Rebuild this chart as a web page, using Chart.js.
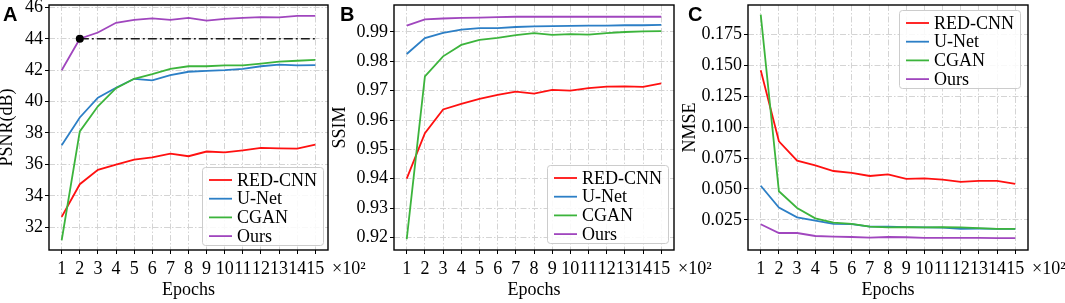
<!DOCTYPE html>
<html><head><meta charset="utf-8">
<script src="https://cdn.jsdelivr.net/npm/chart.js@4.4.0/dist/chart.umd.min.js"></script>
<style>
html,body{margin:0;padding:0;background:#fff;width:1065px;height:303px;overflow:hidden}
canvas{position:absolute;left:0;top:0}
</style></head><body>
<canvas id="cA" width="1065" height="303"></canvas>
<canvas id="cB" width="1065" height="303"></canvas>
<canvas id="cC" width="1065" height="303"></canvas>
<script>
// ---------- data ----------
const epochs = [1,2,3,4,5,6,7,8,9,10,11,12,13,14,15];
const epochTickLabels = ['1','2','3','4','5','6','7','8','9','10','11','12','13','14','15'];
const epochRange = [0.3, 15.7];
const seriesNames = ['RED-CNN','U-Net','CGAN','Ours'];
const seriesColors = ['#ff1010','#2c7fc6','#3cb43c','#a046be'];

const psnrRedCnn = [32.66,34.74,35.65,35.98,36.3,36.45,36.68,36.52,36.82,36.77,36.9,37.05,37.02,37.0,37.26];
const psnrUNet   = [37.22,38.99,40.25,40.88,41.45,41.35,41.68,41.9,41.95,42.0,42.08,42.25,42.35,42.3,42.32];
const psnrCgan   = [31.17,38.1,39.7,40.85,41.45,41.75,42.08,42.25,42.25,42.3,42.3,42.42,42.55,42.6,42.65];
const psnrOurs   = [42.0,44.0,44.4,45.02,45.2,45.3,45.2,45.33,45.15,45.27,45.33,45.38,45.36,45.46,45.46];
const psnrTicks = [32,34,36,38,40,42,44,46];
const psnrTickLabels = ['32','34','36','38','40','42','44','46'];
const psnrRange = [30.55, 46.15];
const psnrRefLineX = [2, 15];
const psnrRefValue = 44;

const ssimRedCnn = [0.9400,0.9555,0.9636,0.9655,0.9672,0.9686,0.9697,0.9690,0.9703,0.9700,0.9709,0.9714,0.9715,0.9713,0.9725];
const ssimUNet   = [0.9825,0.9879,0.9897,0.9908,0.9913,0.9913,0.9917,0.9919,0.9920,0.9921,0.9922,0.9922,0.9923,0.9923,0.9924];
const ssimCgan   = [0.9194,0.9749,0.9817,0.9856,0.9873,0.9880,0.9889,0.9896,0.9890,0.9893,0.9891,0.9896,0.9900,0.9902,0.9903];
const ssimOurs   = [0.9922,0.9943,0.9946,0.9948,0.9949,0.9951,0.9952,0.9952,0.9952,0.9952,0.9952,0.9952,0.9952,0.9952,0.9952];
const ssimTicks = [0.92,0.93,0.94,0.95,0.96,0.97,0.98,0.99];
const ssimTickLabels = ['0.92','0.93','0.94','0.95','0.96','0.97','0.98','0.99'];
const ssimRange = [0.9157, 0.9992];

const nmseRedCnn = [0.1457,0.0885,0.0729,0.0690,0.0645,0.0630,0.0605,0.0618,0.0582,0.0585,0.0575,0.0558,0.0566,0.0566,0.0541];
const nmseUNet   = [0.0526,0.0350,0.0271,0.0245,0.0218,0.0216,0.0197,0.0197,0.0192,0.0190,0.0188,0.0179,0.0180,0.0179,0.0179];
const nmseCgan   = [0.1906,0.0482,0.0347,0.0263,0.0229,0.0218,0.0197,0.0190,0.0192,0.0190,0.0192,0.0190,0.0184,0.0179,0.0179];
const nmseOurs   = [0.0216,0.0145,0.0145,0.0121,0.0116,0.0113,0.0108,0.0113,0.0111,0.0106,0.0105,0.0105,0.0105,0.0104,0.0103];
const nmseTicks = [0.025,0.05,0.075,0.1,0.125,0.15,0.175];
const nmseTickLabels = ['0.025','0.050','0.075','0.100','0.125','0.150','0.175'];
const nmseRange = [0.0008, 0.1984];

// ---------- helpers ----------
const SERIF = '"Liberation Serif","Times New Roman",serif';
const FS = 18;
const tickFont = {family: SERIF, size: FS};
const pts = (xs, ys) => xs.map((x, i) => ({x, y: ys[i]}));

function seriesDatasets(vals) {
  return vals.map((v, i) => ({
    label: seriesNames[i],
    data: pts(epochs, v),
    borderColor: seriesColors[i],
    backgroundColor: seriesColors[i],
    borderWidth: 1.8,
    pointRadius: 0,
    tension: 0,
    fill: false,
    order: 4 - i
  }));
}

function makeScales(yRange, yTicks, yLabels, yTitle, yWidth) {
  const grid = {color: '#d4d4d4', lineWidth: 1, tickColor: '#000', tickLength: 4, tickWidth: 1, tickBorderDash: []};
  const border = {display: false, dash: [6, 2, 1.5, 2]};
  return {
    x: {
      type: 'linear', min: epochRange[0], max: epochRange[1],
      afterBuildTicks: s => { s.ticks = epochs.map(v => ({value: v})); },
      ticks: {callback: v => epochTickLabels[epochs.indexOf(v)], font: tickFont, color: '#000', padding: 4, maxRotation: 0, minRotation: 0, autoSkip: false},
      grid, border,
      title: {display: true, text: 'Epochs', font: {family: SERIF, size: FS, lineHeight: 1.2}, color: '#000', padding: {top: 0, bottom: 2}},
      afterFit: s => { s.height = 53; s.paddingLeft = 0; s.paddingRight = 0; }
    },
    y: {
      type: 'linear', min: yRange[0], max: yRange[1],
      afterBuildTicks: s => { s.ticks = yTicks.map(v => ({value: v})); },
      ticks: {callback: v => yLabels[yTicks.findIndex(t => Math.abs(t - v) < 1e-9)], font: tickFont, color: '#000', padding: 2, autoSkip: false},
      grid, border,
      title: {display: true, text: yTitle, font: {family: SERIF, size: FS, lineHeight: 0.85}, color: '#000', padding: {top: 0, bottom: 0}},
      afterFit: s => { s.width = yWidth; s.paddingTop = 0; s.paddingBottom = 0; }
    }
  };
}

const decor = {
  id: 'decor',
  afterDatasetsDraw(chart, args, o) {
    const {ctx, chartArea: a} = chart;
    ctx.save();
    ctx.strokeStyle = '#000'; ctx.lineWidth = 1.4; ctx.setLineDash([]);
    ctx.strokeRect(a.left, a.top, a.right - a.left, a.bottom - a.top);
    const w = 121, h = 78;
    const lx = a.right - o.legRight - w;
    const ly = o.legTop != null ? a.top + o.legTop : a.bottom - o.legBottom - h;
    ctx.beginPath();
    ctx.roundRect(lx + 0.5, ly + 0.5, w, h, 3);
    ctx.fillStyle = 'rgba(255,255,255,0.85)';
    ctx.fill();
    ctx.strokeStyle = '#cccccc'; ctx.lineWidth = 1;
    ctx.stroke();
    ctx.font = FS + 'px ' + SERIF;
    ctx.textBaseline = 'middle'; ctx.textAlign = 'left';
    for (let i = 0; i < seriesNames.length; i++) {
      const ds = chart.data.datasets[i];
      const cy = ly + 13 + i * 18.7;
      ctx.strokeStyle = ds.borderColor; ctx.lineWidth = 1.8;
      ctx.beginPath(); ctx.moveTo(lx + 7, cy); ctx.lineTo(lx + 30, cy); ctx.stroke();
      ctx.fillStyle = '#000';
      ctx.fillText(ds.label, lx + 35, cy + 1);
    }
    ctx.restore();
  },
  afterDraw(chart, args, o) {
    const {ctx, chartArea: a} = chart;
    ctx.save();
    ctx.fillStyle = '#000';
    ctx.font = 'bold 20px "Liberation Sans", Arial, sans-serif';
    ctx.textBaseline = 'alphabetic'; ctx.textAlign = 'left';
    ctx.fillText(o.letter, o.letterX, 21);
    ctx.font = FS + 'px ' + SERIF;
    ctx.textBaseline = 'middle';
    ctx.fillText('\u00d710\u00b2', a.right + 4, 269);
    ctx.restore();
  }
};

function makeChart(id, datasets, scales, padLeft, padRight, decorOpts) {
  return new Chart(document.getElementById(id), {
    type: 'line',
    data: {datasets},
    options: {
      responsive: false, animation: false, devicePixelRatio: 1,
      layout: {padding: {left: padLeft, right: padRight, top: 5, bottom: 0}},
      plugins: {legend: {display: false}, tooltip: {enabled: false}, decor: decorOpts},
      scales
    },
    plugins: [decor]
  });
}

// Panel A
const dsA = seriesDatasets([psnrRedCnn, psnrUNet, psnrCgan, psnrOurs]);
dsA.push({
  label: 'ref', data: psnrRefLineX.map(x => ({x, y: psnrRefValue})),
  borderColor: '#1a1a1a', backgroundColor: '#000', borderWidth: 1.5, borderDash: [9, 3, 2, 3],
  pointRadius: [4, 0], pointBorderWidth: 0, pointBackgroundColor: '#000', order: 0
});
makeChart('cA', dsA, makeScales(psnrRange, psnrTicks, psnrTickLabels, 'PSNR(dB)', 49), 0, 1065 - 328,
  {letter: 'A', letterX: 3, legRight: 5, legBottom: 5});

// Panel B
makeChart('cB', seriesDatasets([ssimRedCnn, ssimUNet, ssimCgan, ssimOurs]),
  makeScales(ssimRange, ssimTicks, ssimTickLabels, 'SSIM', 394 - 333), 333, 1065 - 674,
  {letter: 'B', letterX: 340, legRight: 6, legBottom: 7});

// Panel C
makeChart('cC', seriesDatasets([nmseRedCnn, nmseUNet, nmseCgan, nmseOurs]),
  makeScales(nmseRange, nmseTicks, nmseTickLabels, 'NMSE', 748 - 683), 683, 1065 - 1028,
  {letter: 'C', letterX: 688, legRight: 8, legTop: 5});
</script>
</body></html>
